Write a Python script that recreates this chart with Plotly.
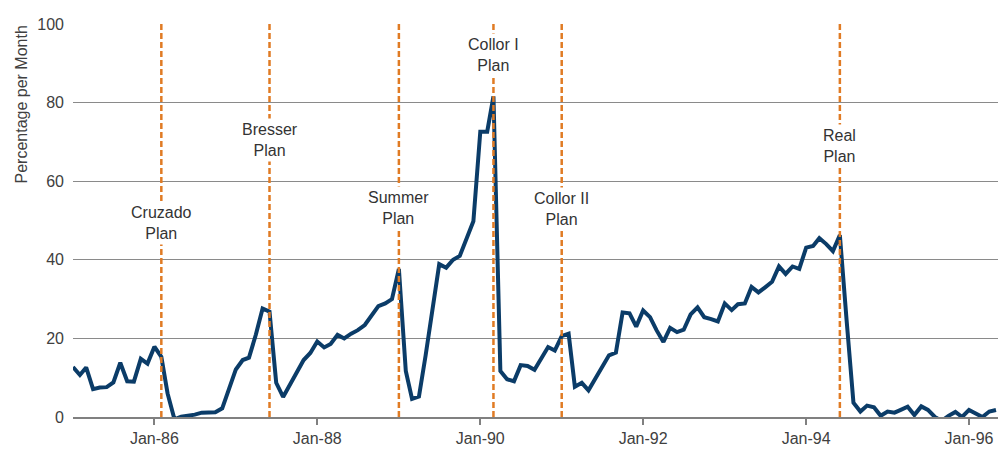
import pandas as pd
import plotly.graph_objects as go

# Monthly inflation, percentage per month, Jan-1985 to May-1996
infl_1985 = [12.7, 10.7, 12.6, 7.1, 7.5, 7.6, 8.8, 13.8, 9.1, 9.0, 14.8, 13.6]
infl_1986 = [17.9, 15.3, 6.0, -0.6, 0.1, 0.3, 0.6, 1.1, 1.1, 1.2, 2.2, 7.2]
infl_1987 = [12.1, 14.5, 15.1, 21.0, 27.6, 26.8, 8.7, 5.1, 8.2, 11.3, 14.5, 16.3]
infl_1988 = [19.2, 17.7, 18.6, 20.9, 20.0, 21.2, 22.1, 23.4, 26.0, 28.2, 28.9, 30.0]
infl_1989 = [37.7, 11.7, 4.6, 5.2, 15.7, 27.7, 38.9, 38.0, 40.0, 41.0, 45.4, 49.8]
infl_1990 = [72.6, 72.6, 81.6, 11.7, 9.6, 9.1, 13.2, 13.0, 12.0, 14.8, 17.8, 16.9]
infl_1991 = [20.6, 21.2, 7.7, 8.7, 6.8, 9.8, 12.9, 15.7, 16.4, 26.6, 26.4, 23.0]
infl_1992 = [27.1, 25.4, 22.1, 19.1, 22.7, 21.6, 22.2, 26.1, 27.9, 25.4, 24.9, 24.3]
infl_1993 = [28.9, 27.2, 28.7, 28.9, 33.1, 31.7, 33.0, 34.4, 38.3, 36.4, 38.3, 37.7]
infl_1994 = [43.1, 43.5, 45.5, 44.0, 42.2, 46.3, 24.8, 3.6, 1.4, 2.9, 2.5, 0.3]
infl_1995 = [1.4, 1.1, 1.8, 2.6, 0.5, 2.7, 1.8, 0.0, -1.0, 0.3, 1.3, 0.0]
infl_1996 = [1.8, 0.9, 0.0, 1.4, 1.8]

inflation = (infl_1985 + infl_1986 + infl_1987 + infl_1988 + infl_1989 + infl_1990
             + infl_1991 + infl_1992 + infl_1993 + infl_1994 + infl_1995 + infl_1996)
months = pd.date_range("1985-01-01", periods=len(inflation), freq="MS")

# Stabilisation plans
plan_names = ["Cruzado<br>Plan", "Bresser<br>Plan", "Summer<br>Plan",
              "Collor I<br>Plan", "Collor II<br>Plan", "Real<br>Plan"]
plan_dates = ["1986-02-01", "1987-06-01", "1989-01-01",
              "1990-03-01", "1991-01-01", "1994-06-01"]

# vertical placement of each plan label (paper units)
label_y = [0.494, 0.705, 0.532, 0.921, 0.529, 0.690]

navy = "#0b3c68"
orange = "#e07b24"
grey_text = "#404040"
font_family = "Liberation Sans, Arial, sans-serif"

fig = go.Figure()
fig.add_trace(go.Scatter(
    x=months, y=inflation, mode="lines",
    line=dict(color=navy, width=4),
    showlegend=False, hoverinfo="skip",
))

for d in plan_dates:
    fig.add_shape(type="line", xref="x", yref="paper", x0=d, x1=d, y0=0, y1=1,
                  line=dict(color=orange, width=2.5, dash="6px,3px"), layer="above")

for name, d, yy in zip(plan_names, plan_dates, label_y):
    fig.add_annotation(x=d, xref="x", y=yy, yref="paper", text=name,
                       showarrow=False, xanchor="center", yanchor="middle",
                       bgcolor="white", borderpad=2,
                       font=dict(family=font_family, size=16, color="#333333"))

fig.add_annotation(text="Percentage per Month", xref="paper", yref="paper",
                   x=(21 - 73) / 925, y=(417 - 104.5) / 393, textangle=-90,
                   showarrow=False, xanchor="center", yanchor="middle",
                   font=dict(family=font_family, size=16, color=grey_text))

fig.update_layout(
    width=998, height=450,
    margin=dict(l=73, r=0, t=24, b=33),
    paper_bgcolor="white", plot_bgcolor="white",
    font=dict(family=font_family, size=16, color=grey_text),
    xaxis=dict(
        type="date", range=["1985-01-01", "1996-05-10"],
        tick0="1986-01-01", dtick="M24", tickformat="%b-%y",
        showgrid=False, zeroline=False,
        showline=True, linecolor="#808080", linewidth=2,
        ticks="outside", ticklen=6, tickwidth=1.5, tickcolor="#808080",
        tickfont=dict(family=font_family, size=16, color=grey_text),
    ),
    yaxis=dict(
        range=[0, 100], tick0=0, dtick=20,
        showgrid=True, gridcolor="#8a8a8a", gridwidth=1,
        zeroline=False, showline=False, ticks="",
        ticklabelstandoff=8,
        tickfont=dict(family=font_family, size=16, color=grey_text),
    ),
)

fig.write_html("out.html")
